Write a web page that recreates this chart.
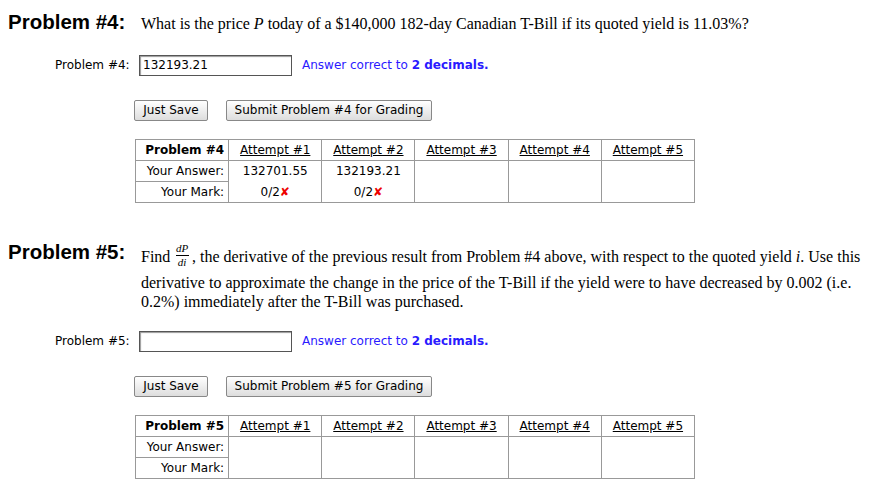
<!DOCTYPE html>
<html><head><meta charset="utf-8">
<script src="https://cdn.jsdelivr.net/npm/chart.js@4"></script>
<style>
body{margin:0;background:#fff;width:883px;height:497px;position:relative;overflow:hidden;font-family:"DejaVu Sans",sans-serif;color:#000}
.a{position:absolute;white-space:nowrap}
.h{font:bold 20.5px "Liberation Sans",Arial,sans-serif}
.s{font:16px "Liberation Serif","Times New Roman",serif}
.l{font-size:12px}
.inp{border:1px solid #555;box-shadow:inset 1px 1px 1px #999;width:150px;font-size:12px;line-height:19px;padding-left:3px;box-sizing:border-box;height:21px}
.blue{color:#2a1aff;font-size:12px}
.btn{border:1px solid #888;border-radius:2px;background:linear-gradient(#fff,#ddd);font-size:12px;height:21px;line-height:19px;box-sizing:border-box;text-align:center}
table{position:absolute;border-collapse:collapse;border:1px solid #777;font-size:12px;table-layout:fixed;width:560px}
td{border:1px solid #999;height:20px;padding:0;text-align:center;overflow:hidden}
td.f{text-align:right;padding-right:4px}
u{text-decoration:underline}
.x{color:#e00;font-weight:bold}
.fr{position:absolute;font:italic 11px "Liberation Serif",serif;text-align:center;width:14px}
</style></head><body>
<div class="a h" style="left:8px;top:10px">Problem #4:</div>
<div class="a s" style="left:141px;top:15px">What is the price <i>P</i> today of a $140,000 182-day Canadian T-Bill if its quoted yield is 11.03%?</div>
<div class="a l" style="left:55px;top:58px">Problem #4:</div>
<div class="a inp" style="left:139px;top:55px;width:153px">132193.21</div>
<div class="a blue" style="left:302px;top:58px">Answer correct to <b>2 decimals.</b></div>
<div class="a btn" style="left:134px;top:100px;width:74px">Just Save</div>
<div class="a btn" style="left:226px;top:100px;width:206px">Submit Problem #4 for Grading</div>
<table id="t4" style="left:135px;top:139px"></table>

<div class="a h" style="left:8px;top:240px">Problem #5:</div>
<div class="a s" style="left:141px;top:248px">Find</div>
<div class="fr" style="left:175px;top:242px">dP</div>
<div class="a" style="left:176px;top:255px;width:13px;border-top:1px solid #000"></div>
<div class="fr" style="left:175px;top:256px">di</div>
<div class="a s" style="left:192px;top:248px">, the derivative of the previous result from Problem #4 above, with respect to the quoted yield <i>i</i>. Use this</div>
<div class="a s" style="left:141px;top:274px">derivative to approximate the change in the price of the T-Bill if the yield were to have decreased by 0.002 (i.e.</div>
<div class="a s" style="left:141px;top:293px">0.2%) immediately after the T-Bill was purchased.</div>
<div class="a l" style="left:55px;top:334px">Problem #5:</div>
<div class="a inp" style="left:139px;top:331px;width:153px"></div>
<div class="a blue" style="left:302px;top:334px">Answer correct to <b>2 decimals.</b></div>
<div class="a btn" style="left:134px;top:376px;width:74px">Just Save</div>
<div class="a btn" style="left:226px;top:376px;width:206px">Submit Problem #5 for Grading</div>
<table id="t5" style="left:135px;top:415px"></table>
<script>
const attempts=["Attempt #1","Attempt #2","Attempt #3","Attempt #4","Attempt #5"];
const answers4=["132701.55","132193.21","","",""];
const marks4=["0/2","0/2","","",""];
const answers5=["","","","",""];
const marks5=["","","","",""];
function build(id,title,ans,mk){
  let h='<colgroup><col style="width:93px">'+attempts.map(()=>'<col style="width:93px">').join('')+'</colgroup>';
  h+='<tr><td class="f" style="font-weight:bold">'+title+'</td>'+attempts.map(a=>'<td><u>'+a+'</u></td>').join('')+'</tr>';
  h+='<tr><td class="f">Your Answer:</td>'+ans.map(a=>'<td style="border-bottom:none">'+a+'</td>').join('')+'</tr>';
  h+='<tr><td class="f">Your Mark:</td>'+mk.map(m=>'<td style="border-top:none">'+(m?m+'<span class="x">✘</span>':'')+'</td>').join('')+'</tr>';
  document.getElementById(id).innerHTML=h;
}
build("t4","Problem #4",answers4,marks4);
build("t5","Problem #5",answers5,marks5);
</script>
</body></html>
